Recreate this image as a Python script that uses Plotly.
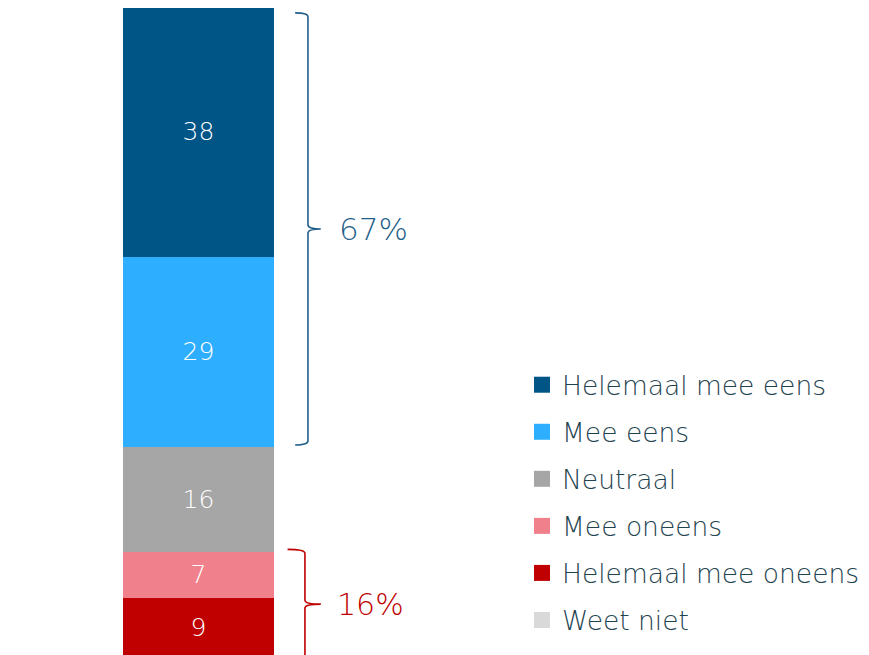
import plotly.graph_objects as go

categories = ["Helemaal mee oneens", "Mee oneens", "Neutraal", "Mee eens", "Helemaal mee eens", "Weet niet"]
values = [9, 7, 16, 29, 38, 0]
colors = ["#c00000", "#f0808b", "#a6a6a6", "#2eaeff", "#005587", "#d9d9d9"]
legend_rank = [5, 4, 3, 2, 1, 6]
agree_label = "67%"
disagree_label = "16%"

FONT = "DejaVu Sans"
TXT = "#1f4450"

fig = go.Figure()
for cat, v, c in zip(categories, values, colors):
    fig.add_trace(go.Bar(
        x=[0], y=[v], name=cat, marker=dict(color=c, line=dict(width=0)),
        width=1, text=[str(v) if v else ""], textposition="inside",
        insidetextanchor="middle", textangle=0,
        insidetextfont=dict(color="white", size=25, family=FONT, weight=200),
        showlegend=False, hoverinfo="skip",
    ))
# legend entries (no data points drawn)
for cat, c, r in zip(categories, colors, legend_rank):
    fig.add_trace(go.Scatter(
        x=[None], y=[None], mode="markers", name=cat,
        marker=dict(symbol="square", size=16, color=c),
        legendrank=r, legendgroup=cat, showlegend=True,
    ))

cum = []
s = 0
for v in values:
    cum.append((s, s + v))
    s += v

def brace(y0, y1, xh, xv, xt, color):
    mid = (y0 + y1) / 2
    d = 0.6
    path = (f"M{xh},{y1} Q{xv},{y1} {xv},{y1 - d} L{xv},{mid + d} "
            f"Q{xv},{mid} {xt},{mid} Q{xv},{mid} {xv},{mid - d} "
            f"L{xv},{y0 + d} Q{xv},{y0} {xh},{y0}")
    fig.add_shape(type="path", path=path, xref="x", yref="y",
                  line=dict(color=color, width=1.6))
    return mid

agree_lo = cum[3][0]
agree_hi = cum[4][1]
m1 = brace(agree_lo + 0.3, agree_hi - 0.9, 0.64, 0.725, 0.81, "#1f5f8b")
fig.add_annotation(x=0.917, y=m1, text=agree_label, showarrow=False, xanchor="left",
                   xref="x", yref="y", font=dict(size=31, color="#1f5f8b", family=FONT, weight=200))

dis_lo = cum[0][0]
dis_hi = cum[1][1]
m2 = brace(dis_lo - 0.3, dis_hi + 0.4, 0.59, 0.705, 0.81, "#c00000")
fig.add_annotation(x=0.904, y=m2, text=disagree_label, showarrow=False, xanchor="left",
                   xref="x", yref="y", font=dict(size=30, color="#c00000", family=FONT, weight=200))

fig.update_layout(
    width=869, height=655, barmode="stack",
    margin=dict(l=0, r=0, t=0, b=0),
    paper_bgcolor="white", plot_bgcolor="white",
    xaxis=dict(range=[-1.2616, 4.4934], visible=False, fixedrange=True),
    yaxis=dict(range=[-0.91, 98.85], visible=False, fixedrange=True),
    legend=dict(x=514 / 869, xanchor="left", y=1 - 353 / 655, yanchor="top",
                traceorder="grouped", tracegroupgap=9.6, itemsizing="trace",
                font=dict(size=26.5, color=TXT, family=FONT, weight=200),
                bgcolor="rgba(0,0,0,0)"),
    showlegend=True,
)

fig.write_html("out.html")
